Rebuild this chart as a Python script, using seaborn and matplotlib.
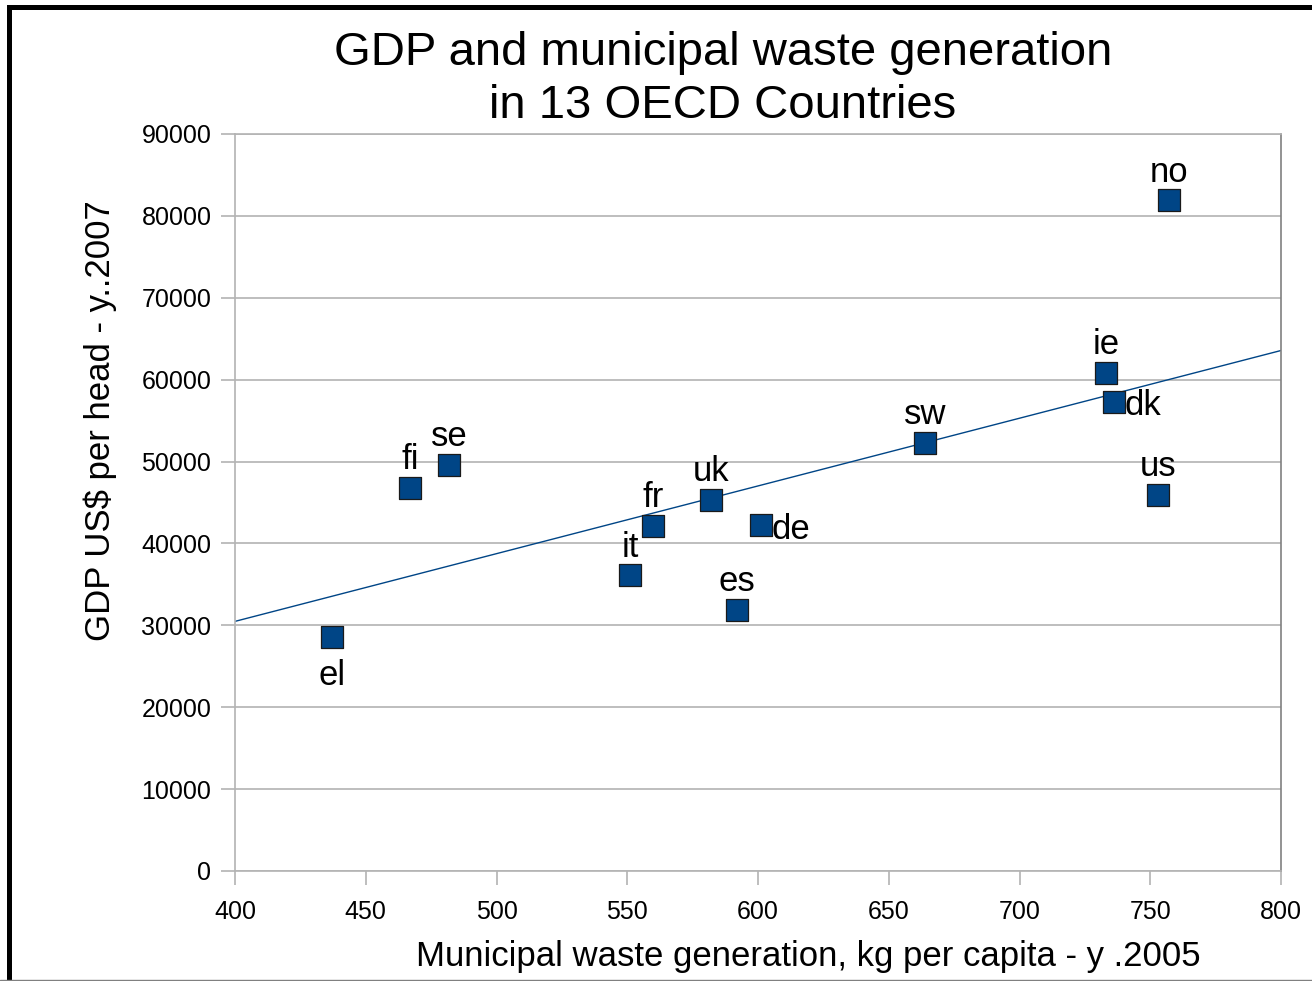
import pandas as pd
import numpy as np
import seaborn as sns
import matplotlib
import matplotlib.pyplot as plt
from matplotlib.lines import Line2D

countries = ["el", "fi", "se", "it", "fr", "uk", "de", "es", "sw", "ie", "dk", "us", "no"]
waste = [437, 467, 482, 551, 560, 582, 601, 592, 664, 733, 736, 753, 757]
gdp = [28600, 46800, 49600, 36100, 42100, 45300, 42200, 31900, 52300, 60800, 57300, 45900, 81900]

df = pd.DataFrame({"country": countries, "waste": waste, "gdp": gdp})

sns.set_style("white", {"text.color": "black", "axes.labelcolor": "black"})
plt.rcParams["font.family"] = ["Liberation Sans", "DejaVu Sans"]

blue = "#004586"
grid = "#b3b3b3"

fig = plt.figure(figsize=(13.12, 9.81), dpi=100)
ax = fig.add_axes([235 / 1312, 1 - 871 / 981, 1046 / 1312, 737 / 981])

ax.set_xlim(400, 800)
ax.set_ylim(0, 90000)
ax.set_xticks(range(400, 801, 50))
ax.set_yticks(range(0, 90001, 10000))
ax.yaxis.grid(True, color=grid, lw=1.2)
ax.set_axisbelow(True)

# trend line through the points, spanning the whole axis
sns.regplot(data=df, x="waste", y="gdp", scatter=False, ci=None, truncate=False,
            color=blue, line_kws={"lw": 1}, ax=ax)
sns.scatterplot(data=df, x="waste", y="gdp", marker="s", s=250, color=blue,
                edgecolor="#1a1a1a", linewidth=0.9, ax=ax, zorder=3)

below = {"el"}
right = {"de", "dk"}
for c, x, y in zip(countries, waste, gdp):
    if c in below:
        ax.annotate(c, (x, y), xytext=(0, -35), textcoords="offset points",
                    ha="center", va="baseline", fontsize=25, color="black")
    elif c in right:
        ax.annotate(c, (x, y), xytext=(8, -9.5), textcoords="offset points",
                    ha="left", va="baseline", fontsize=25, color="black")
    else:
        ax.annotate(c, (x, y), xytext=(0, 13.5), textcoords="offset points",
                    ha="center", va="baseline", fontsize=25, color="black")

for side in ["left", "bottom", "top"]:
    ax.spines[side].set_color(grid)
    ax.spines[side].set_linewidth(1.2)
ax.spines["right"].set_color("#808080")
ax.spines["right"].set_linewidth(1.2)

ax.tick_params(axis="both", direction="out", length=10, width=1.2, color=grid,
               labelsize=18, labelcolor="black")
ax.tick_params(axis="y", pad=7, left=True)
ax.tick_params(axis="x", pad=11, bottom=True)

ax.set_xlabel("Municipal waste generation, kg per capita - y .2005", fontsize=25)
ax.set_ylabel("GDP US$ per head - y..2007", fontsize=25)
ax.xaxis.set_label_coords(0.548, -0.0935)
ax.yaxis.set_label_coords(-0.113, 0.611)

fig.text(723 / 1312, 1 - 31 / 981, "GDP and municipal waste generation\nin 13 OECD Countries",
         ha="center", va="top", fontsize=34, linespacing=1.26, color="black")

# outer frame of the original picture
fig.add_artist(Line2D([8.5 / 1312, 8.5 / 1312], [0, 1 - 6.5 / 981], color="black", lw=3.6,
                      transform=fig.transFigure, solid_capstyle="projecting"))
fig.add_artist(Line2D([8.5 / 1312, 1], [1 - 6.5 / 981, 1 - 6.5 / 981], color="black", lw=3.6,
                      transform=fig.transFigure, solid_capstyle="projecting"))
fig.add_artist(Line2D([0, 1], [1.5 / 981, 1.5 / 981], color="#808080", lw=1,
                      transform=fig.transFigure))

plt.savefig("out.png", dpi=100)
